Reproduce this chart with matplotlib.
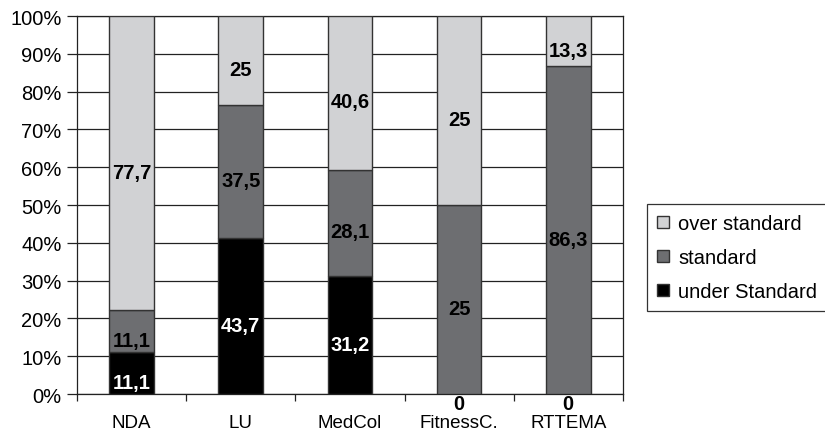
import matplotlib
matplotlib.use("Agg")
import matplotlib.pyplot as plt
import numpy as np

plt.rcParams['font.family'] = ['Liberation Sans', 'DejaVu Sans']

# data (raw values, shown as labels; bars are normalised to 100%)
categories = ["NDA", "LU", "MedCol", "FitnessC.", "RTTEMA"]
under_std = [11.1, 43.7, 31.2, 0, 0]
standard = [11.1, 37.5, 28.1, 25, 86.3]
over_std = [77.7, 25, 40.6, 25, 13.3]
label_txt = {
    "under": ["11,1", "43,7", "31,2", "0", "0"],
    "standard": ["11,1", "37,5", "28,1", "25", "86,3"],
    "over": ["77,7", "25", "40,6", "25", "13,3"],
}

under_a = np.array(under_std)
std_a = np.array(standard)
over_a = np.array(over_std)
tot = under_a + std_a + over_a
p_under = under_a / tot * 100
p_std = std_a / tot * 100
p_over = over_a / tot * 100

fig = plt.figure(figsize=(8.25, 4.31), dpi=100)
ax = fig.add_axes([0.0933, 0.0835, 0.6617, 0.877])

x = np.arange(len(categories))
w = 0.41
edge = "#333333"
c_over, c_std, c_under = "#d1d2d4", "#6d6e71", "#000000"

b1 = ax.bar(x, p_under, w, color=c_under, edgecolor=edge, linewidth=1, zorder=3, label="under Standard")
b2 = ax.bar(x, p_std, w, bottom=p_under, color=c_std, edgecolor=edge, linewidth=1, zorder=3, label="standard")
b3 = ax.bar(x, p_over, w, bottom=p_under + p_std, color=c_over, edgecolor=edge, linewidth=1, zorder=3, label="over standard")

# value labels (Excel puts them a bit below the segment middle)
def put_labels(bottoms, heights, texts, color):
    for i in range(len(x)):
        c = color if heights[i] > 0 else "black"
        ax.annotate(texts[i], (x[i], bottoms[i] + heights[i] / 2), xytext=(0, -6.5),
                    textcoords="offset points", ha="center", va="center",
                    fontsize=14.5, fontweight="bold", color=c, zorder=5,
                    annotation_clip=False)

put_labels(np.zeros(len(x)), p_under, label_txt["under"], "white")
put_labels(p_under, p_std, label_txt["standard"], "black")
put_labels(p_under + p_std, p_over, label_txt["over"], "black")

ax.set_xlim(-0.5, len(categories) - 0.5)
ax.set_ylim(0, 100)
ax.set_yticks(np.arange(0, 101, 10))
ax.set_yticklabels([f"{v}%" for v in range(0, 101, 10)])
ax.yaxis.grid(True, color="#222222", linewidth=0.9, zorder=0)
ax.set_axisbelow(True)

ax.set_xticks(x)
ax.set_xticklabels(categories)
ax.set_xticks(np.arange(-0.5, len(categories), 1), minor=True)
ax.tick_params(axis="x", which="major", length=0, pad=14.5, labelsize=13.5)
ax.tick_params(axis="x", which="minor", length=5, width=0.9, color="#222222")
ax.tick_params(axis="y", length=7, width=0.9, color="#222222", pad=4, labelsize=14.5)

for s in ax.spines.values():
    s.set_color("#222222")
    s.set_linewidth(0.9)

handles = [b3, b2, b1]
leg = ax.legend(handles, [h.get_label() for h in handles], loc="center left",
                bbox_to_anchor=(0.784, 0.40), bbox_transform=fig.transFigure,
                fontsize=14.5, frameon=True, fancybox=False, edgecolor="black",
                handlelength=0.6, handleheight=0.6, handletextpad=0.45,
                borderpad=0.5, labelspacing=0.75, borderaxespad=0)
leg.get_frame().set_linewidth(0.9)

fig.savefig("out.png", dpi=100)
